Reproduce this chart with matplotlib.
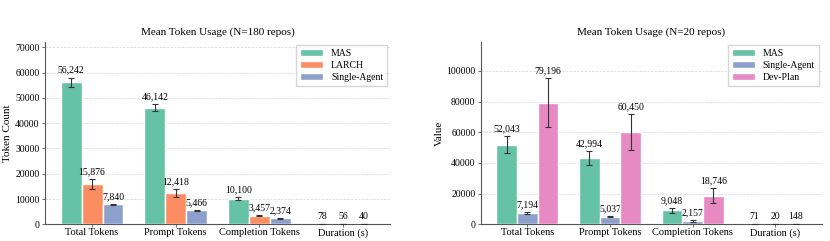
import matplotlib.pyplot as plt
import numpy as np

plt.rcParams['font.family'] = ['Liberation Serif', 'DejaVu Serif']

categories = ['Total Tokens', 'Prompt Tokens', 'Completion Tokens', 'Duration (s)']

# left panel (N=180)
left_series = ['MAS', 'LARCH', 'Single-Agent']
left_values = [
    [56242, 46142, 10100, 78],
    [15876, 12418, 3457, 56],
    [7840, 5466, 2374, 40],
]
left_errors = [
    [1800, 1400, 500, 5],
    [2000, 1700, 150, 4],
    [250, 180, 120, 3],
]

# right panel (N=20)
right_series = ['MAS', 'Single-Agent', 'Dev-Plan']
right_values = [
    [52043, 42994, 9048, 71],
    [7194, 5037, 2157, 20],
    [79196, 60450, 18746, 148],
]
right_errors = [
    [5800, 4500, 1600, 10],
    [700, 600, 350, 4],
    [16000, 11700, 4700, 30],
]

colors = {'MAS': '#66c2a5', 'LARCH': '#fc8d62', 'Single-Agent': '#8da0cb', 'Dev-Plan': '#e78ac3'}

fig = plt.figure(figsize=(8.3, 2.41), dpi=100)
ax1 = fig.add_axes([0.0542, 0.0693, 0.4158, 0.7564])
ax2 = fig.add_axes([0.5795, 0.0693, 0.4105, 0.7564])


def draw(ax, series, values, errors, title, ylabel, ymax, yticks, ylab_x):
    x = np.arange(len(categories))
    width = 0.25
    for i, name in enumerate(series):
        pos = x + (i - 1) * width
        ax.bar(pos, values[i], width, color=colors[name], edgecolor='white',
               linewidth=1, label=name, zorder=3)
        ax.errorbar(pos, values[i], yerr=errors[i], fmt='none', ecolor='#333333',
                    elinewidth=0.8, capsize=2, capthick=0.8, zorder=4)
        for p, v, e in zip(pos, values[i], errors[i]):
            ax.annotate(f'{v:,}', (p, v + e), xytext=(0, 2), textcoords='offset points',
                        ha='center', va='bottom', fontsize=7)
    ax.set_xticks(x)
    ax.set_xticklabels(categories, fontsize=7.5)
    ax.set_yticks(yticks)
    ax.tick_params(axis='y', labelsize=7, length=2, width=0.6, color='#555555', pad=2)
    ax.tick_params(axis='x', length=2, width=0.6, color='#555555', pad=1)
    ax.set_ylim(0, ymax)
    ax.set_title(title, fontsize=8, pad=5)
    ax.set_ylabel(ylabel, fontsize=8)
    ax.yaxis.set_label_coords(ylab_x, 0.5)
    ax.grid(axis='y', linestyle='--', linewidth=0.5, color='#d5d5d5', zorder=0)
    ax.spines['top'].set_visible(False)
    ax.spines['right'].set_visible(False)
    for s in ['left', 'bottom']:
        ax.spines[s].set_color('#555555')
        ax.spines[s].set_linewidth(0.8)
    ax.legend(loc='upper right', fontsize=7, frameon=True, fancybox=False,
              edgecolor='#cccccc', handlelength=2.4, handleheight=0.8, borderpad=0.4,
              labelspacing=0.3, handletextpad=0.8, borderaxespad=0.3)


draw(ax1, left_series, left_values, left_errors, 'Mean Token Usage (N=180 repos)',
     'Token Count', 72100, range(0, 70001, 10000), -0.096)
draw(ax2, right_series, right_values, right_errors, 'Mean Token Usage (N=20 repos)',
     'Value', 118900, range(0, 100001, 20000), -0.108)

fig.savefig('out.png', dpi=100)
